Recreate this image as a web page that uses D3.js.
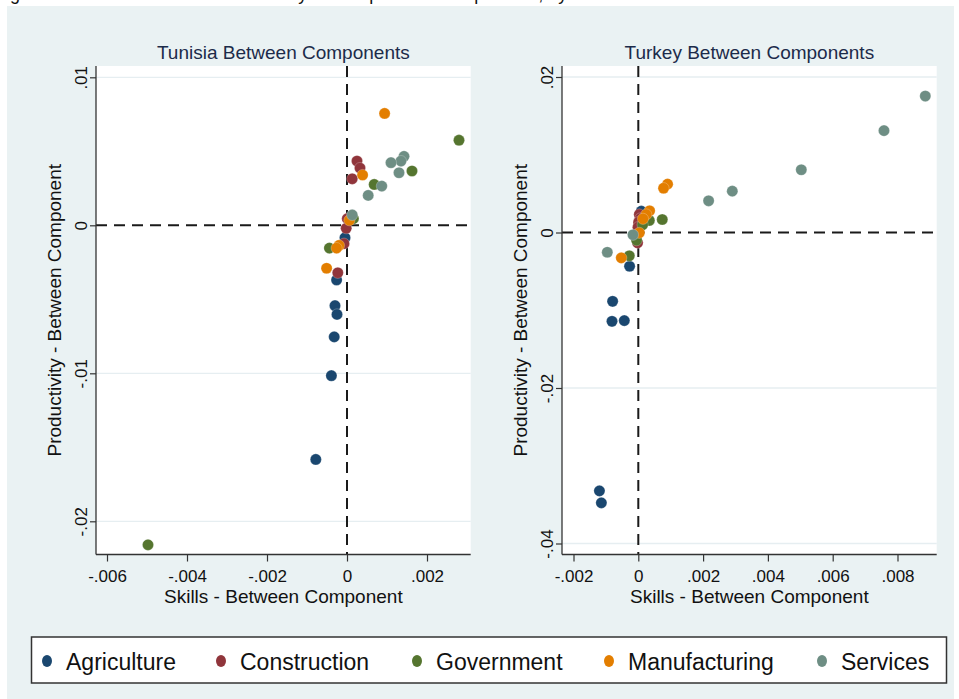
<!DOCTYPE html>
<html><head><meta charset="utf-8">
<script src="https://cdn.jsdelivr.net/npm/d3@7"></script>
<style>
body{margin:0;background:#fff}
svg{display:block}
text{font-family:"Liberation Sans",Arial,Helvetica,sans-serif}
</style>
</head><body>
<svg id="chart" width="959" height="699"></svg>
<script>
// ---------------- DATA ----------------
const categories = ["Agriculture","Construction","Government","Manufacturing","Services"];
const colors = ["#1a476f","#90353b","#55752f","#e37e00","#6e8e84"];

// Tunisia: [skills between, productivity between]
const tunAgriculture = [[-0.00005,-0.00084],[-0.00026,-0.00369],[-0.00030,-0.00543],[-0.00025,-0.00602],[-0.00032,-0.00754],[-0.00039,-0.01016],[-0.00078,-0.01582]];
const tunConstruction = [[0.00025,0.00434],[0.000325,0.00387],[0.00013,0.00314],[0.0000075,0.00045],[-0.00002,-0.0002],[-0.000075,-0.00124],[-0.00023,-0.00321]];
const tunGovernment = [[0.0028,0.00575],[0.001625,0.00367],[0.00068,0.00276],[0.00016,0.00045],[-0.00044,-0.00154],[-0.004975,-0.02159]];
const tunManufacturing = [[0.00094,0.00756],[0.00039,0.0034],[0.00006,0.00034],[-0.0002,-0.00136],[-0.00026,-0.00154],[-0.00051,-0.0029]];
const tunServices = [[0.001425,0.00466],[0.00135,0.00434],[0.0011,0.00423],[0.0013,0.00355],[0.00087,0.00265],[0.00053,0.00202],[0.00013,0.0007]];

// Turkey
const turAgriculture = [[0.000093,0.00274],[-0.000269,-0.00434],[-0.000793,-0.00885],[-0.000812,-0.01142],[-0.000432,-0.01133],[-0.0012,-0.03323],[-0.00114,-0.03477]];
const turConstruction = [[0.000031,0.00232],[0.00006,0.0018],[0.0000093,0.00133],[-0.0000093,0.00068],[-0.000022,-0.00133]];
const turGovernment = [[0.00074,0.00167],[0.00034,0.00155],[0.000133,0.00099],[-0.0000525,-0.00099],[-0.000278,-0.003]];
const turManufacturing = [[0.000904,0.00622],[0.00078,0.0057],[0.000349,0.00279],[0.000247,0.00232],[0.000145,0.00176],[0.000031,-0.00004],[-0.000525,-0.00326]];
const turServices = [[0.008858,0.01755],[0.007583,0.0131],[0.005031,0.00807],[0.002901,0.00532],[0.00217,0.00408],[-0.000164,-0.0003],[-0.000957,-0.00254]];

const tunXTicks = [-0.006,-0.004,-0.002,0,0.002];
const tunXTickLabels = ["-.006","-.004","-.002","0",".002"];
const tunYTicks = [0.01,0,-0.01,-0.02];
const tunYTickLabels = [".01","0","-.01","-.02"];
const turXTicks = [-0.002,0,0.002,0.004,0.006,0.008];
const turXTickLabels = ["-.002","0",".002",".004",".006",".008"];
const turYTicks = [0.02,0,-0.02,-0.04];
const turYTickLabels = [".02","0","-.02","-.04"];

const panelTitles = ["Tunisia Between Components","Turkey Between Components"];
const xAxisTitle = "Skills - Between Component";
const yAxisTitle = "Productivity - Between Component";
const figureTitle = "Figure 4: Skills and Labour Productivity Decomposition Components, by Sector";

// ---------------- DRAW ----------------
const svg = d3.select("#chart");
const BG = "rgb(234,242,243)";

svg.append("rect").attr("x",7).attr("y",6).attr("width",947).attr("height",693).attr("fill",BG);
svg.append("text").attr("x",-5).attr("y",0).attr("font-size",18).attr("fill","#111").text(figureTitle);

const panels = [
  {title:panelTitles[0], left:96, right:470.7, top:66, bottom:554.5,
   xDomain:[-0.006275,0.0030925], yDomain:[-0.022243,0.010764],
   xTicks:tunXTicks, xLabels:tunXTickLabels, yTicks:tunYTicks, yLabels:tunYTickLabels,
   series:[tunAgriculture,tunConstruction,tunGovernment,tunManufacturing,tunServices]},
  {title:panelTitles[1], left:562, right:936.7, top:66, bottom:554.5,
   xDomain:[-0.002355,0.00921], yDomain:[-0.041415,0.021415],
   xTicks:turXTicks, xLabels:turXTickLabels, yTicks:turYTicks, yLabels:turYTickLabels,
   series:[turAgriculture,turConstruction,turGovernment,turManufacturing,turServices]}
];

panels.forEach(p => {
  const x = d3.scaleLinear().domain(p.xDomain).range([p.left,p.right]);
  const y = d3.scaleLinear().domain(p.yDomain).range([p.bottom,p.top]);
  const g = svg.append("g");
  g.append("rect").attr("x",p.left).attr("y",p.top).attr("width",p.right-p.left).attr("height",p.bottom-p.top).attr("fill","#fff");
  // gridlines
  g.selectAll(".grid").data(p.yTicks.filter(t=>t!==0)).join("line")
    .attr("x1",p.left).attr("x2",p.right).attr("y1",d=>y(d)).attr("y2",d=>y(d))
    .attr("stroke","#e6eef1").attr("stroke-width",1.3);
  // reference lines
  g.append("line").attr("x1",x(0)).attr("x2",x(0)).attr("y1",p.top).attr("y2",p.bottom)
    .attr("stroke","#1a1a1a").attr("stroke-width",2).attr("stroke-dasharray","11,7");
  g.append("line").attr("x1",p.left).attr("x2",p.right).attr("y1",y(0)).attr("y2",y(0))
    .attr("stroke","#1a1a1a").attr("stroke-width",2).attr("stroke-dasharray","11,7");
  // axes
  const xAxis = d3.axisBottom(x).tickValues(p.xTicks).tickFormat((d,i)=>p.xLabels[i]).tickSize(7).tickSizeOuter(0);
  const gx = g.append("g").attr("transform",`translate(0,${p.bottom})`).call(xAxis);
  gx.select(".domain").attr("d",`M${p.left},0H${p.right}`).attr("stroke","#333").attr("stroke-width",1.3);
  gx.selectAll(".tick line").attr("stroke","#333").attr("stroke-width",1.2);
  gx.selectAll(".tick text").attr("font-size",17).attr("fill","#111").attr("dy",null).attr("y",27)
    .style("font-family",'"Liberation Sans",Arial,sans-serif');
  const yAxis = d3.axisLeft(y).tickValues(p.yTicks).tickFormat((d,i)=>p.yLabels[i]).tickSize(6).tickSizeOuter(0);
  const gy = g.append("g").attr("transform",`translate(${p.left},0)`).call(yAxis);
  gy.select(".domain").attr("d",`M0,${p.top}V${p.bottom}`).attr("stroke","#333").attr("stroke-width",1.3);
  gy.selectAll(".tick line").attr("stroke","#333").attr("stroke-width",1.2);
  gy.selectAll(".tick text").attr("font-size",17).attr("fill","#111")
    .attr("x",null).attr("dy",null).attr("text-anchor","middle")
    .attr("transform","translate(-9,0) rotate(-90)")
    .style("font-family",'"Liberation Sans",Arial,sans-serif');
  // markers
  p.series.forEach((pts,si) => {
    g.append("g").selectAll("circle").data(pts).join("circle")
      .attr("cx",d=>x(d[0])).attr("cy",d=>y(d[1])).attr("r",5.6)
      .attr("fill",colors[si]).attr("stroke","#fff").attr("stroke-width",0.4).attr("stroke-opacity",0.6);
  });
  // titles
  const cx = (p.left+p.right)/2, cy = (p.top+p.bottom)/2;
  g.append("text").attr("x",cx).attr("y",59).attr("text-anchor","middle").attr("font-size",19)
    .attr("fill","#1c2b4a").text(p.title);
  g.append("text").attr("x",cx).attr("y",603).attr("text-anchor","middle").attr("font-size",19)
    .attr("fill","#111").text(xAxisTitle);
  g.append("text").attr("transform",`translate(${p.left-35},${cy}) rotate(-90)`).attr("text-anchor","middle")
    .attr("font-size",19).attr("fill","#111").text(yAxisTitle);
});

// legend
const lg = svg.append("g");
lg.append("rect").attr("x",31.5).attr("y",637).attr("width",915).attr("height",46)
  .attr("fill","#fff").attr("stroke","#333").attr("stroke-width",1.5);
const legendX = [47,221,417,609,822];
categories.forEach((c,i) => {
  lg.append("ellipse").attr("cx",legendX[i]).attr("cy",661).attr("rx",5).attr("ry",6).attr("fill",colors[i]);
  lg.append("text").attr("x",legendX[i]+19).attr("y",669.5).attr("font-size",23).attr("fill","#111").text(c);
});
</script>
</body></html>
